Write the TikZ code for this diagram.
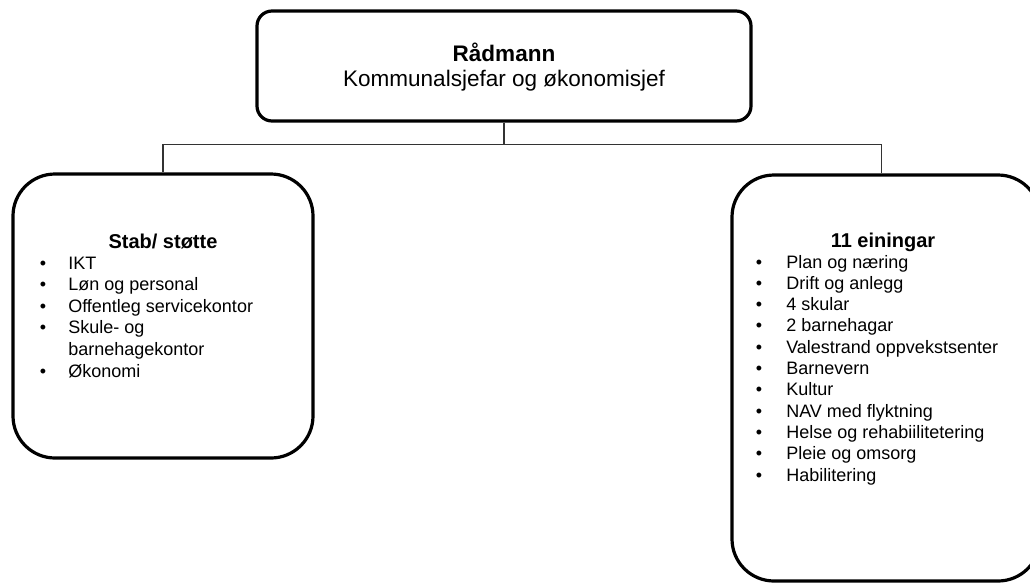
\documentclass[tikz,border=0pt]{standalone}
\usepackage{fontspec}
\setmainfont{Liberation Sans}
\usetikzlibrary{calc}
\begin{document}
\begin{tikzpicture}[x=0.75pt,y=-0.75pt,
  box/.style={draw=black, line width=2.4pt, rounded corners=#1, inner sep=0pt},
  conn/.style={draw=black!80, line width=0.8pt},
  item/.style={anchor=base west, inner sep=0pt, font=\fontsize{13.5}{16}\selectfont},
  bul/.style={anchor=base, inner sep=0pt, font=\fontsize{13.5}{16}\selectfont},
  head/.style={anchor=base, inner sep=0pt, font=\fontsize{15}{18}\selectfont\bfseries},
  toptxt/.style={anchor=base, inner sep=0pt, font=\fontsize{16.9}{20}\selectfont}]
\useasboundingbox (0,0) rectangle (1030,583);
\clip (0,0) rectangle (1030,583);

% boxes
\node[box=11.25pt, minimum width=370.5pt, minimum height=82.5pt] (top) at (504,66) {};
\node[box=31.5pt, minimum width=225pt, minimum height=213pt] (left) at (163,316) {};
\node[box=31.5pt, minimum width=231pt, minimum height=304.5pt] (right) at (886,378) {};
\coordinate (rtop) at ($(right.north west)+(151,0)$);

% connectors
\draw[conn] (top.south) -- ++(0,22) -| (left.north);
\draw[conn] (top.south) -- ++(0,22) -| (rtop);

% top text
\node[toptxt, font=\fontsize{16.9}{20}\selectfont\bfseries] (t1) at (504,61) {Rådmann};
\node[toptxt] (t2) at (504,86) {Kommunalsjefar og økonomisjef};

% left box
\node[head] (lh) at (163,248) {Stab/ støtte};
\foreach \t [count=\i from 0] in {IKT,Løn og personal,Offentleg servicekontor,Skule- og,barnehagekontor,Økonomi}
  \node[item] (l\i) at (68,269+21.6*\i) {\t};
\foreach \i in {0,1,2,3,5}
  \node[bul] (lb\i) at (43,269+21.6*\i) {\textbullet};

% right box
\node[head] (rh) at (883,247) {11 einingar};
\foreach \t [count=\i from 0] in {Plan og næring,Drift og anlegg,4 skular,2 barnehagar,Valestrand oppvekstsenter,Barnevern,Kultur,NAV med flyktning,Helse og rehabiilitetering,Pleie og omsorg,Habilitering}
  {\node[item] (r\i) at (786,268+21.3*\i) {\t};
   \node[bul] (rb\i) at (759,268+21.3*\i) {\textbullet};}
\end{tikzpicture}
\end{document}
